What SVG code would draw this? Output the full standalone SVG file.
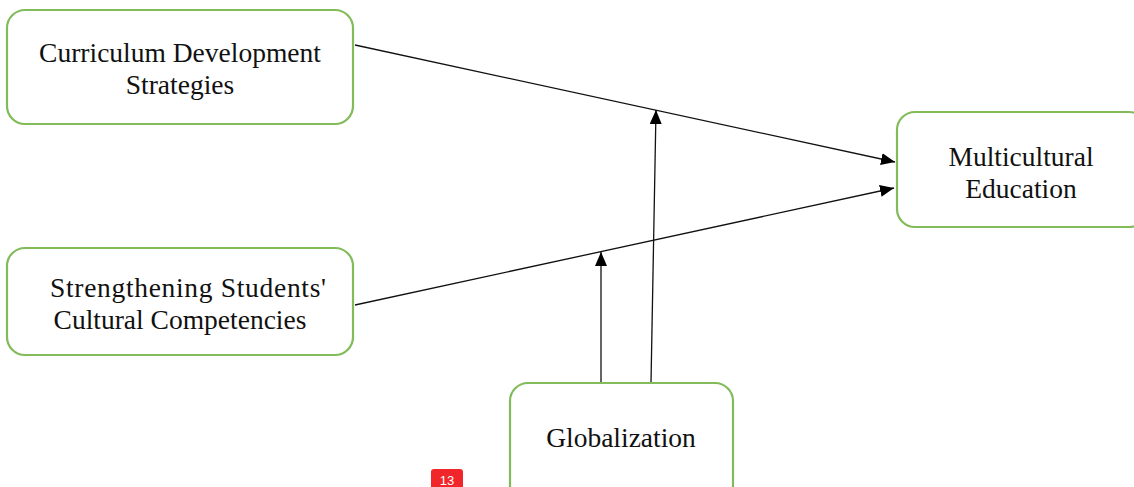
<svg xmlns="http://www.w3.org/2000/svg" width="1134" height="487" viewBox="0 0 1134 487">
<style>
.box{fill:#ffffff;stroke:#82bb5a;stroke-width:2.2}
.lbl{font-family:"Liberation Serif","Times New Roman",serif;font-size:27.5px;fill:#111;text-anchor:middle}
.conn{stroke:#111;stroke-width:1.3;fill:none}
</style>
<defs>
<marker id="ah" viewBox="0 0 14 12" refX="14" refY="6" markerWidth="14" markerHeight="12" markerUnits="userSpaceOnUse" orient="auto">
<path d="M0,0 L14,6 L0,12 Z" fill="#000"/>
</marker>
</defs>
<rect width="1134" height="487" fill="#ffffff"/>
<g id="connectors">
<line class="conn" x1="355" y1="45" x2="895" y2="162" marker-end="url(#ah)"/>
<line class="conn" x1="355" y1="305" x2="894" y2="188" marker-end="url(#ah)"/>
<line class="conn" x1="601" y1="383" x2="601" y2="252" marker-end="url(#ah)"/>
<line class="conn" x1="651" y1="383" x2="656" y2="110" marker-end="url(#ah)"/>
</g>
<g id="curriculum">
<rect class="box" x="7" y="10" width="346" height="114" rx="18"/>
<text class="lbl" x="180" y="62">Curriculum Development</text>
<text class="lbl" x="180" y="94">Strategies</text>
</g>
<g id="strengthening">
<rect class="box" x="7" y="248" width="346" height="107" rx="18"/>
<text class="lbl" x="188" y="297" textLength="276" lengthAdjust="spacing">Strengthening Students'</text>
<text class="lbl" x="180" y="329">Cultural Competencies</text>
</g>
<g id="multicultural">
<rect class="box" x="897" y="112" width="250" height="115" rx="18"/>
<text class="lbl" x="1021" y="166">Multicultural</text>
<text class="lbl" x="1021" y="198">Education</text>
</g>
<g id="globalization">
<rect class="box" x="510" y="383" width="223" height="120" rx="18"/>
<text class="lbl" x="621" y="447">Globalization</text>
</g>
<g id="badge">
<rect x="431" y="469" width="32" height="24" rx="3" fill="#f0262a"/>
<text x="447" y="485" font-family="Liberation Sans, Arial, sans-serif" font-size="13" fill="#fff" text-anchor="middle">13</text>
</g>
</svg>
